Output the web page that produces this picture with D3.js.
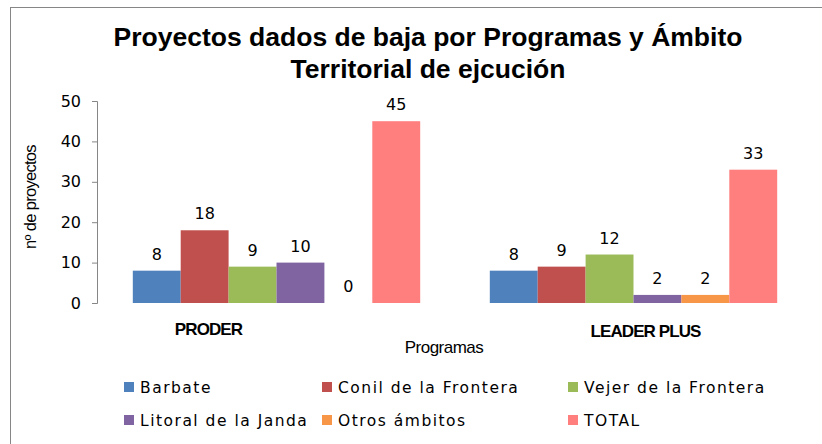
<!DOCTYPE html>
<html>
<head>
<meta charset="utf-8">
<script src="https://cdn.jsdelivr.net/npm/d3@7"></script>
<style>
  body { margin: 0; background: #fff; }
</style>
</head>
<body>
<script>
// data
var programas = ["PRODER", "LEADER PLUS"];
var ambitos = ["Barbate", "Conil de la Frontera", "Vejer de la Frontera", "Litoral de la Janda", "Otros ámbitos", "TOTAL"];
var proder = [8, 18, 9, 10, 0, 45];
var leaderPlus = [8, 9, 12, 2, 2, 33];
var colores = ["#4f81bd", "#c0504d", "#9bbb59", "#8064a2", "#f79646", "#ff7f7f"];
var yTicks = [0, 10, 20, 30, 40, 50];

var valores = [proder, leaderPlus];

var width = 822, height = 444;
var svg = d3.select("body").append("svg")
    .attr("width", width)
    .attr("height", height);

// chart frame
svg.append("rect")
    .attr("x", 10.5).attr("y", 7.5)
    .attr("width", 840).attr("height", 460)
    .attr("fill", "none")
    .attr("stroke", "#868686")
    .attr("stroke-width", 1);

// title
var title = svg.append("text")
    .attr("text-anchor", "middle")
    .style("font-family", "Liberation Sans, Arial, sans-serif")
    .style("font-weight", "bold")
    .style("font-size", "26.5px")
    .attr("fill", "#000");
title.append("tspan").attr("x", 428).attr("y", 46).text("Proyectos dados de baja por Programas y Ámbito");
title.append("tspan").attr("x", 428).attr("y", 78).text("Territorial de ejcución");

//scales
var x0 = d3.scaleBand()
    .domain(programas)
    .range([98, 812])
    .paddingInner(0.195)
    .paddingOuter(0.0975);

var x1 = d3.scaleBand()
    .domain(ambitos)
    .range([0, x0.bandwidth()]);

var y = d3.scaleLinear()
    .domain([0, 50])
    .range([303, 101]);

// y axis
var yAxis = svg.append("g")
    .attr("transform", "translate(97,0)")
    .call(d3.axisLeft(y).tickValues(yTicks).tickSize(5).tickPadding(11));
yAxis.select(".domain").attr("stroke", "#868686");
yAxis.selectAll(".tick line").attr("stroke", "#868686");
yAxis.selectAll(".tick text")
    .style("font-family", "DejaVu Sans, sans-serif")
    .style("font-size", "16px")
    .attr("fill", "#000");

svg.append("text")
    .attr("transform", "translate(36,197) rotate(-90)")
    .attr("text-anchor", "middle")
    .style("font-family", "Liberation Sans, Arial, sans-serif")
    .style("font-size", "16.5px")
    .style("letter-spacing", "-0.7px")
    .text("nº de proyectos");

// bars
var grupos = svg.selectAll("g.grupo")
    .data(programas)
    .enter()
    .append("g")
    .classed("grupo", true)
    .attr("transform", d => "translate(" + x0(d) + ",0)");

grupos.selectAll("rect")
    .data((d, i) => valores[i].map((v, j) => ({ambito: ambitos[j], valor: v, color: colores[j]})))
    .enter()
    .append("rect")
    .attr("x", d => x1(d.ambito))
    .attr("y", d => y(d.valor))
    .attr("width", x1.bandwidth())
    .attr("height", d => y(0) - y(d.valor))
    .attr("fill", d => d.color);

grupos.selectAll("text.valor")
    .data((d, i) => valores[i].map((v, j) => ({ambito: ambitos[j], valor: v})))
    .enter()
    .append("text")
    .classed("valor", true)
    .attr("x", d => x1(d.ambito) + x1.bandwidth() / 2)
    .attr("y", d => y(d.valor) - 11)
    .attr("text-anchor", "middle")
    .style("font-family", "DejaVu Sans, sans-serif")
    .style("font-size", "16px")
    .text(d => d.valor);

// category labels (Excel put them a bit off centre)
var desplaz = {"PRODER": -68, "LEADER PLUS": 12};
svg.selectAll("text.cat")
    .data(programas)
    .enter()
    .append("text")
    .classed("cat", true)
    .attr("x", d => x0(d) + x0.bandwidth() / 2 + desplaz[d])
    .attr("y", d => d == "PRODER" ? 335 : 337)
    .attr("text-anchor", "middle")
    .style("font-family", "Liberation Sans, Arial, sans-serif")
    .style("font-weight", "bold")
    .style("font-size", "17px")
    .style("letter-spacing", "-0.9px")
    .text(d => d);

svg.append("text")
    .attr("x", 444).attr("y", 353)
    .attr("text-anchor", "middle")
    .style("font-family", "Liberation Sans, Arial, sans-serif")
    .style("font-size", "17px")
    .style("letter-spacing", "-0.5px")
    .text("Programas");

// legend
var colX = [124, 322, 568];
var rowY = [387, 420];
var leyenda = svg.selectAll("g.leyenda")
    .data(ambitos)
    .enter()
    .append("g")
    .classed("leyenda", true)
    .attr("transform", (d, i) => "translate(" + colX[i % 3] + "," + rowY[Math.floor(i / 3)] + ")");

leyenda.append("rect")
    .attr("x", 0).attr("y", -5)
    .attr("width", 10).attr("height", 10)
    .attr("fill", (d, i) => colores[i]);

leyenda.append("text")
    .attr("x", 16).attr("y", 6)
    .style("font-family", "DejaVu Sans, sans-serif")
    .style("font-size", "15.5px")
    .style("letter-spacing", "1.5px")
    .text(d => d);
</script>
</body>
</html>
